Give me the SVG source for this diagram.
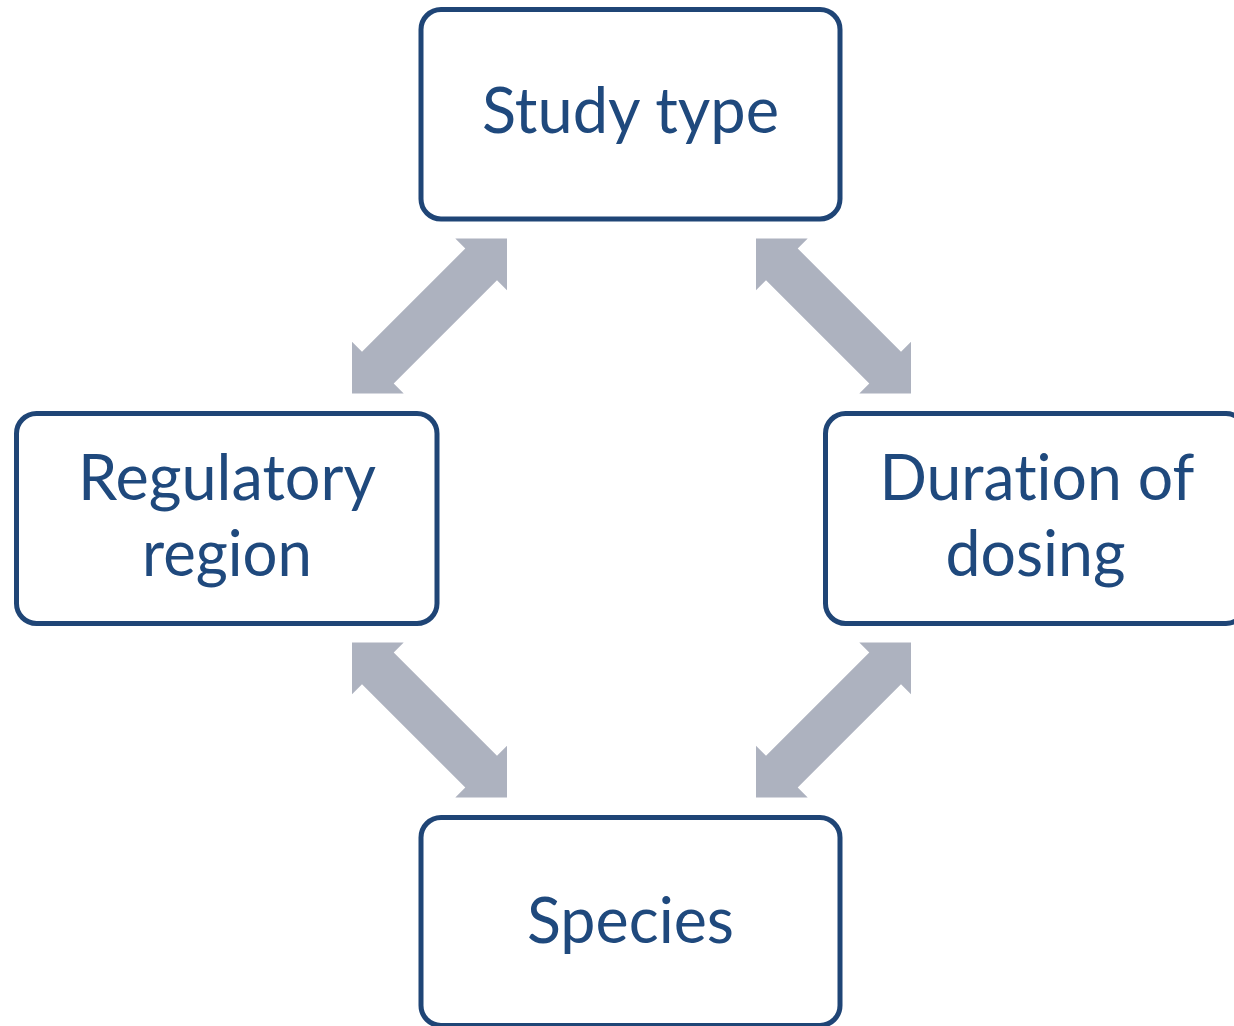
<svg xmlns="http://www.w3.org/2000/svg" xmlns:xlink="http://www.w3.org/1999/xlink" width="1234" height="1026" viewBox="0 0 1234 1026">
  <style>
    .box { fill: #ffffff; stroke: #1f4576; stroke-width: 5; }
    .label { font-family: Lato, "Open Sans", "Liberation Sans", sans-serif; font-size: 64px; fill: #1f497d; text-anchor: middle; font-variant-ligatures: none; font-feature-settings: "liga" 0, "clig" 0; }
    .link { fill: #adb2bf; }
  </style>
  <defs>
    <!-- double-headed block arrow running from the upper-right corner to the lower-left corner of a 155x155 square -->
    <polygon id="dbl-arrow" points="155,0 155,51.7 145,41.7 41.7,145 51.7,155 0,155 0,103.3 10,113.3 113.3,10 103.3,0"/>
  </defs>

  <rect width="1234" height="1026" fill="#ffffff"/>

  <g id="connectors" class="link">
    <use xlink:href="#dbl-arrow" transform="translate(352,238.5)"/>
    <use xlink:href="#dbl-arrow" transform="translate(911,238.5) scale(-1,1)"/>
    <use xlink:href="#dbl-arrow" transform="translate(507,642.5) scale(-1,1)"/>
    <use xlink:href="#dbl-arrow" transform="translate(756,642.5)"/>
  </g>

  <g id="study-type">
    <rect class="box" x="421" y="9.5" width="419" height="209.5" rx="20"/>
    <text class="label" x="630.5" y="133" textLength="297" lengthAdjust="spacingAndGlyphs">Study type</text>
  </g>

  <g id="regulatory-region">
    <rect class="box" x="16.5" y="413.5" width="420.5" height="210" rx="20"/>
    <text class="label" x="227" y="499.5" textLength="298" lengthAdjust="spacingAndGlyphs">Regulatory</text>
    <text class="label" x="227" y="575.5" textLength="170" lengthAdjust="spacingAndGlyphs">region</text>
  </g>

  <g id="duration-of-dosing">
    <rect class="box" x="825.5" y="413.5" width="420.5" height="210" rx="20"/>
    <text class="label" x="1037" y="499.5" textLength="315" lengthAdjust="spacingAndGlyphs">Duration of</text>
    <text class="label" x="1035.5" y="575.5" textLength="180" lengthAdjust="spacingAndGlyphs">dosing</text>
  </g>

  <g id="species">
    <rect class="box" x="421" y="817.5" width="419" height="208" rx="20"/>
    <text class="label" x="630.5" y="942.5" textLength="207" lengthAdjust="spacingAndGlyphs">Species</text>
  </g>
</svg>
